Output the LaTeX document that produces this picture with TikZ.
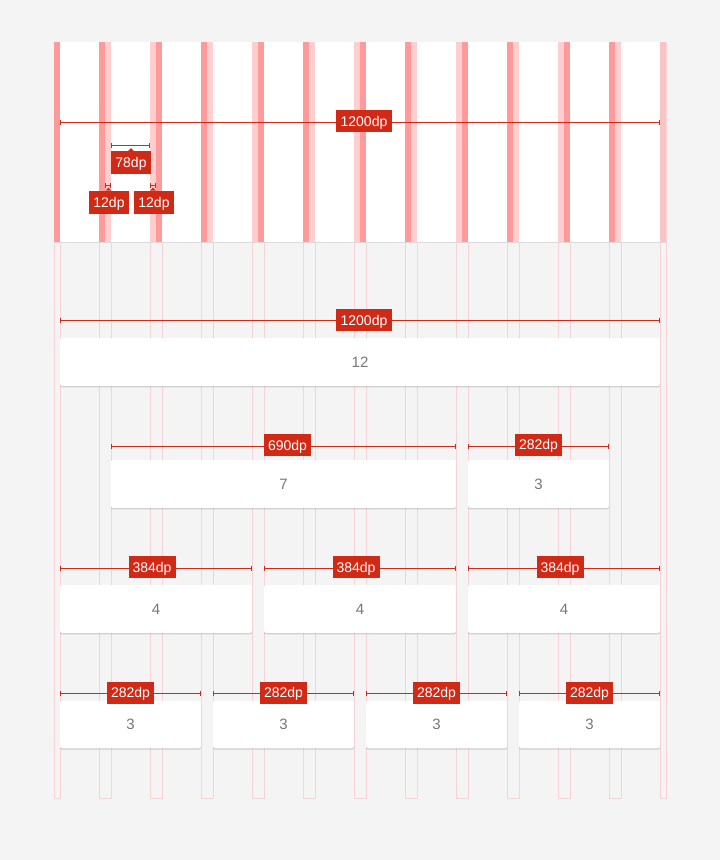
\documentclass[tikz,border=0pt]{standalone}
\usepackage{fontspec}
\setmainfont{Liberation Sans}
\usetikzlibrary{arrows.meta,shadows}

\definecolor{bg}{HTML}{F4F4F4}
\definecolor{bandDark}{HTML}{FF9A9A}
\definecolor{bandLight}{HTML}{FFCECE}
\definecolor{bandEdge}{HTML}{F8C4C4}
\definecolor{gutterLine}{HTML}{F6D3D6}
\definecolor{dimRed}{HTML}{D02A17}
\definecolor{numGray}{HTML}{777777}

\tikzset{
  card/.style={fill=white, rounded corners=2pt, inner sep=0pt, outer sep=0pt,
    minimum height=48pt, text=numGray, font=\fontsize{15}{15}\selectfont,
    text height=10.7pt, text depth=0pt,
    drop shadow={shadow xshift=0pt, shadow yshift=-1.3pt, opacity=0.16, fill=black}},
  tag/.style={fill=dimRed, text=white, inner sep=0pt, outer sep=0pt,
    minimum height=22pt, font=\fontsize{14}{14}\selectfont,
    text height=10pt, text depth=0pt},
  dimline/.style={draw=dimRed, line width=1pt,
    {Bar[width=5pt,line width=1pt]}-{Bar[width=5pt,line width=1pt]}},
  gutterbox/.style={draw=gutterLine, line width=0.8pt},
}

\begin{document}
\begin{tikzpicture}[x=1pt,y=-1pt]
  \useasboundingbox (0,0) rectangle (720,860);
  \fill[bg] (0,0) rectangle (720,860);

  % gutter and margin outlines running down the page
  \draw[gutterbox] (54,42) rectangle (60,798);
  \draw[gutterbox] (660,42) rectangle (666,798);
  \foreach \g in {99,150,201,252,303,354,405,456,507,558,609}
    \draw[gutterbox] (\g,42) rectangle (\g+12,798);

  % 12-column grid panel
  \fill[black!14] (54,42.5) rectangle (666,243.3);
  \fill[white] (54,42) rectangle (666,242);
  \fill[bandDark] (54,42) rectangle (60,242);
  \fill[bandEdge] (660,42) rectangle (666,242);
  \foreach \g in {99,201,303,405,507,609} {
    \fill[bandDark] (\g,42) rectangle (\g+6,242);
    \fill[bandLight] (\g+6,42) rectangle (\g+12,242);
  }
  \foreach \g in {150,252,354,456,558} {
    \fill[bandLight] (\g,42) rectangle (\g+6,242);
    \fill[bandDark] (\g+6,42) rectangle (\g+12,242);
  }

  % panel dimensions
  \coordinate (pA) at (60,122);  \coordinate (pB) at (660,122);
  \draw[dimline] (pA) -- (pB);
  \node[tag, minimum width=56pt] (tPanel) at (364,121.3) {1200dp};

  \coordinate (cA) at (111,145.3); \coordinate (cB) at (150,145.3);
  \draw[dimline] (cA) -- (cB);
  \node[tag, minimum width=40pt, minimum height=23pt] (tCol) at (131,162.5) {78dp};
  \fill[dimRed] (128,151) -- (131,148) -- (134,151) -- cycle;

  \coordinate (gA) at (105,185.3); \coordinate (gB) at (111,185.3);
  \draw[dimline] (gA) -- (gB);
  \node[tag, minimum width=40pt, minimum height=23pt] (tGutA) at (109,202.2) {12dp};
  \fill[dimRed] (105.5,190.7) -- (108.5,187.7) -- (111.5,190.7) -- cycle;

  \coordinate (hA) at (150,185.3); \coordinate (hB) at (156,185.3);
  \draw[dimline] (hA) -- (hB);
  \node[tag, minimum width=40pt, minimum height=23pt] (tGutB) at (154,202.2) {12dp};
  \fill[dimRed] (150,190.7) -- (153,187.7) -- (156,190.7) -- cycle;

  % row: 12
  \node[card, minimum width=600pt] (r1c1) at (360,362) {12};
  \coordinate (d1a) at (60,320.3); \coordinate (d1b) at (660,320.3);
  \draw[dimline] (d1a) -- (d1b);
  \node[tag, minimum width=56pt] (t1) at (364,320.2) {1200dp};

  % row: 7 + 3
  \node[card, minimum width=345pt] (r2c1) at (283.5,484) {7};
  \node[card, minimum width=141pt] (r2c2) at (538.5,484) {3};
  \coordinate (d2a) at (111,446); \coordinate (d2b) at (456,446);
  \coordinate (d2c) at (468,446); \coordinate (d2d) at (609,446);
  \draw[dimline] (d2a) -- (d2b);
  \draw[dimline] (d2c) -- (d2d);
  \node[tag, minimum width=47pt] (t2a) at (287.5,445.3) {690dp};
  \node[tag, minimum width=47pt] (t2b) at (538.5,444.7) {282dp};

  % row: 4 + 4 + 4
  \foreach \cx/\nm in {156/a,360/b,564/c} {
    \node[card, minimum width=192pt] (r3\nm) at (\cx,609) {4};
    \coordinate (d3\nm l) at (\cx-96,568.3);
    \coordinate (d3\nm r) at (\cx+96,568.3);
    \draw[dimline] (d3\nm l) -- (d3\nm r);
    \node[tag, minimum width=47pt] (t3\nm) at (\cx-4,567.3) {384dp};
  }

  % row: 3 + 3 + 3 + 3
  \foreach \cx/\nm in {130.5/a,283.5/b,436.5/c,589.5/d} {
    \node[card, minimum width=141pt, minimum height=47.5pt] (r4\nm) at (\cx,724.5) {3};
    \coordinate (d4\nm l) at (\cx-70.5,693.3);
    \coordinate (d4\nm r) at (\cx+70.5,693.3);
    \draw[dimline] (d4\nm l) -- (d4\nm r);
    \node[tag, minimum width=47pt] (t4\nm) at (\cx,692.5) {282dp};
  }
\end{tikzpicture}
\end{document}
